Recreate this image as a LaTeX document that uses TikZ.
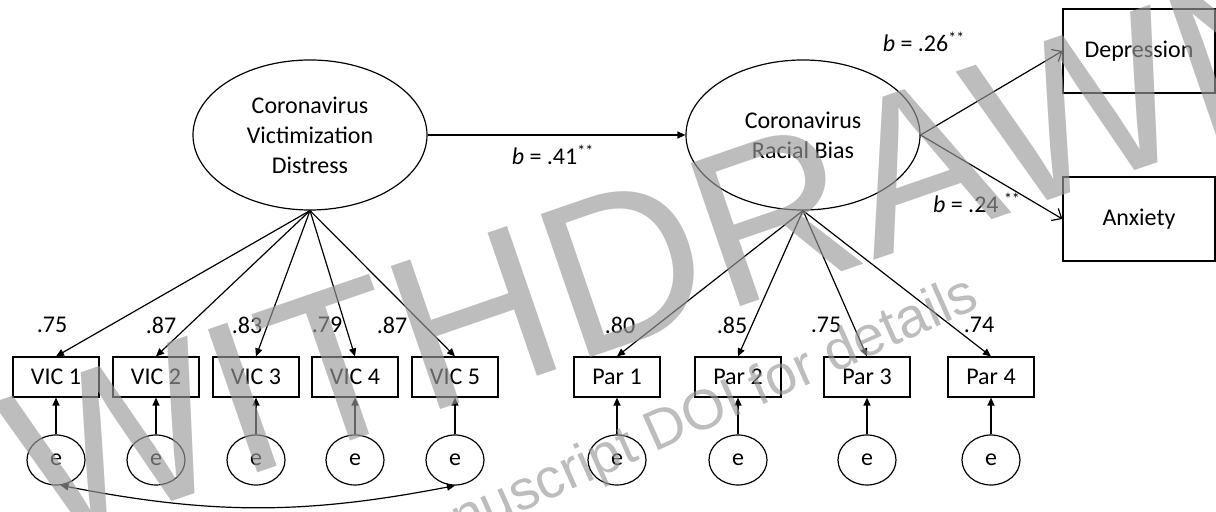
\documentclass[tikz,border=0pt]{standalone}
\usepackage{fontspec}
\setmainfont{Carlito}
\newfontfamily\wmfont{Liberation Sans}
\usetikzlibrary{shapes.geometric,arrows.meta}
\definecolor{wmgray}{gray}{0.6}
\begin{document}
\begin{tikzpicture}[x=0.5pt,y=-0.5pt,line width=0.6pt,
  font=\fontsize{12}{15}\selectfont,
  latent/.style={draw,ellipse,minimum width=117pt,minimum height=75pt,inner sep=0pt,align=center},
  obs/.style={draw,rectangle,minimum width=43pt,minimum height=20pt,inner sep=0pt},
  outc/.style={draw,rectangle,minimum width=76pt,minimum height=42pt,inner sep=0pt},
  err/.style={draw,ellipse,minimum width=29pt,minimum height=25pt,inner sep=0pt},
  loadarrow/.style={-{Triangle[length=4pt,width=3.5pt]}},
  regarrow/.style={-{Straight Barb[length=4pt,width=7pt]}},
  wmark/.style={text=wmgray,text opacity=0.65,inner sep=0pt}]
\useasboundingbox (0,0) rectangle (1216,512);
\clip (0,0) rectangle (1216,512);
\node[latent] (vic) at (310,135) {Coronavirus\\Victimization\\Distress};
\node[latent] (bias) at (803,135) {Coronavirus\\Racial Bias};
\node[outc] (dep) at (1139,51) {Depression};
\node[outc] (anx) at (1139,219) {Anxiety};
\foreach \i/\x/\l/\lx in {1/56/.75/52,2/156/.87/161,3/256/.83/247,4/355/.79/327,5/455/.87/392}
{
\node[obs] (v\i) at (\x,377) {VIC \i};
\node[err] (ev\i) at (\x,460) {e};
\draw[loadarrow] (vic.south) -- (v\i.north);
\draw[loadarrow] (ev\i.north) -- (v\i.south);
\node (lv\i) at (\lx,325) {\l};
}
\foreach \i/\x/\l/\lx in {1/617/.80/620,2/738/.85/732,3/867/.75/826,4/991/.74/979}
{
\node[obs] (p\i) at (\x,377) {Par \i};
\node[err] (ep\i) at (\x,460) {e};
\draw[loadarrow] (bias.south) -- (p\i.north);
\draw[loadarrow] (ep\i.north) -- (p\i.south);
\node (lp\i) at (\lx,325) {\l};
}
\draw[loadarrow] (vic.east) -- (bias.west);
\draw[regarrow] (bias.east) -- (dep.west);
\draw[regarrow] (bias.east) -- (anx.west);
\draw[{Triangle[length=4pt,width=3.5pt]}-{Triangle[length=4pt,width=3.5pt]}] (ev1.-80) to[bend right=11] (ev5.-90);
\node (b1) at (553,155) {\textit{b} = .41\textsuperscript{**}};
\node (b2) at (924,42) {\textit{b} = .26\textsuperscript{**}};
\node (b3) at (977,203) {\textit{b} = .24 \textsuperscript{**}};
\node[wmark,font=\wmfont\fontsize{110}{110}\selectfont,rotate=19] (wd) at (672,250) {WITHDRAWN};
\node[wmark,font=\wmfont\fontsize{28}{28}\selectfont,rotate=24,anchor=base east] (doi) at (982,307) {manuscript DOI for details};
\end{tikzpicture}
\end{document}
